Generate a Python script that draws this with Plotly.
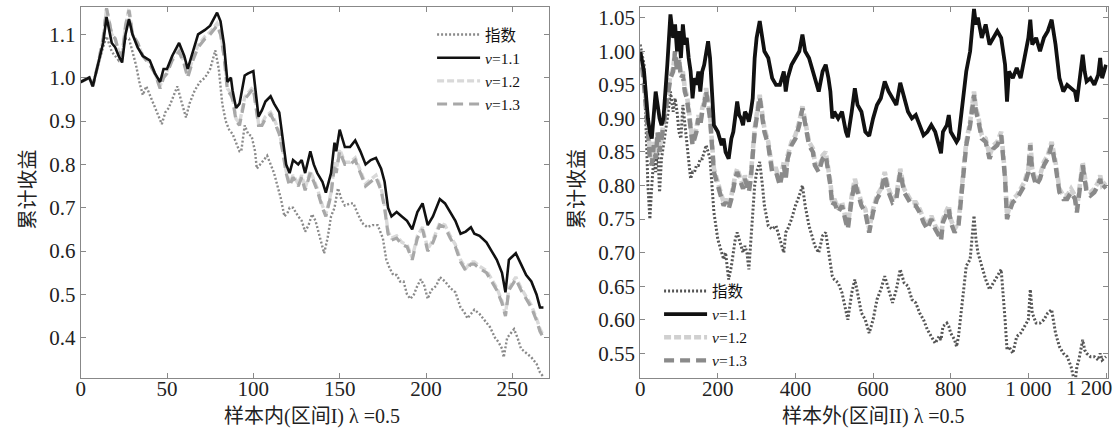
import plotly.graph_objects as go

# ---------------- data: left panel (in-sample) ----------------
LEFT_X = [0, 5, 7, 10, 13, 15, 18, 20, 22, 24,
          26, 28, 30, 33, 36, 40, 43, 46, 48, 50,
          53, 57, 60, 62, 65, 68, 72, 75, 79, 81,
          83, 85, 87, 88, 90, 92, 95, 97, 100, 103,
          105, 107, 110, 112, 115, 117, 119, 121, 123, 126,
          128, 130, 133, 135, 137, 140, 142, 145, 147, 148,
          150, 153, 156, 159, 162, 165, 168, 171, 174, 176,
          178, 180, 183, 186, 189, 192, 195, 198, 201, 204,
          208, 211, 214, 217, 220, 223, 226, 228, 231, 235,
          238, 241, 244, 246, 248, 252, 255, 258, 261, 264,
          266, 268]
LEFT_V11 = [0.99, 1.00, 0.98, 1.03, 1.08, 1.14, 1.08, 1.07, 1.05, 1.035,
            1.10, 1.135, 1.10, 1.07, 1.05, 1.04, 1.01, 0.99, 1.02, 1.02,
            1.05, 1.08, 1.05, 1.02, 1.06, 1.10, 1.11, 1.12, 1.15, 1.13,
            1.077, 0.99, 1.00, 0.97, 0.93, 0.94, 1.005, 1.01, 1.015, 0.91,
            0.925, 0.945, 0.957, 0.94, 0.92, 0.86, 0.80, 0.78, 0.81, 0.80,
            0.81, 0.78, 0.83, 0.80, 0.78, 0.76, 0.735, 0.78, 0.85, 0.83,
            0.88, 0.84, 0.84, 0.855, 0.83, 0.80, 0.81, 0.815, 0.79, 0.76,
            0.70, 0.68, 0.69, 0.68, 0.67, 0.65, 0.69, 0.71, 0.66, 0.68,
            0.72, 0.71, 0.69, 0.67, 0.64, 0.645, 0.655, 0.64, 0.635, 0.62,
            0.60, 0.58, 0.55, 0.505, 0.58, 0.595, 0.57, 0.545, 0.53, 0.50,
            0.47, 0.47]
LEFT_V12 = [0.99, 1.00, 0.98, 1.03, 1.09, 1.16, 1.10, 1.09, 1.06, 1.05,
            1.12, 1.16, 1.10, 1.08, 1.05, 1.035, 1.01, 0.98, 1.005, 1.015,
            1.045, 1.065, 1.035, 1.005, 1.045, 1.075, 1.095, 1.105, 1.125, 1.105,
            1.055, 0.975, 0.965, 0.955, 0.905, 0.895, 0.955, 0.965, 0.98, 0.895,
            0.895, 0.91, 0.92, 0.905, 0.875, 0.835, 0.785, 0.755, 0.775, 0.755,
            0.775, 0.745, 0.785, 0.765, 0.745, 0.705, 0.685, 0.735, 0.805, 0.785,
            0.835, 0.805, 0.805, 0.815, 0.785, 0.755, 0.765, 0.775, 0.745, 0.705,
            0.645, 0.63, 0.635, 0.62, 0.615, 0.585, 0.635, 0.655, 0.605, 0.625,
            0.665, 0.66, 0.635, 0.615, 0.58, 0.56, 0.575, 0.575, 0.565, 0.555,
            0.535, 0.515, 0.485, 0.455, 0.515, 0.54, 0.515, 0.495, 0.475, 0.445,
            0.42, 0.405]
LEFT_V13 = [0.99, 1.00, 0.98, 1.03, 1.09, 1.16, 1.10, 1.09, 1.06, 1.05,
            1.12, 1.155, 1.10, 1.08, 1.05, 1.03, 1.01, 0.975, 1.00, 1.01,
            1.04, 1.06, 1.03, 1.00, 1.04, 1.07, 1.09, 1.10, 1.12, 1.10,
            1.05, 0.97, 0.96, 0.95, 0.90, 0.89, 0.95, 0.96, 0.975, 0.89,
            0.89, 0.905, 0.915, 0.90, 0.87, 0.83, 0.78, 0.75, 0.77, 0.75,
            0.77, 0.74, 0.78, 0.76, 0.74, 0.70, 0.68, 0.73, 0.80, 0.78,
            0.83, 0.80, 0.80, 0.81, 0.78, 0.75, 0.76, 0.77, 0.74, 0.70,
            0.64, 0.625, 0.63, 0.615, 0.61, 0.58, 0.63, 0.65, 0.60, 0.62,
            0.66, 0.655, 0.63, 0.61, 0.575, 0.555, 0.57, 0.57, 0.56, 0.55,
            0.53, 0.51, 0.48, 0.45, 0.51, 0.535, 0.51, 0.49, 0.47, 0.44,
            0.415, 0.40]
LEFT_X_IDX = [0, 5, 7, 10, 13, 15, 18, 20, 22, 24,
              26, 28, 30, 32, 34, 36, 38, 40, 42, 44,
              46, 47, 49, 51, 53, 56, 58, 60, 61, 63,
              66, 69, 72, 75, 78, 80, 82, 84, 86, 88,
              90, 92, 93, 95, 97, 99, 101, 102, 104, 106,
              108, 110, 112, 114, 116, 118, 120, 121, 123, 126,
              128, 130, 132, 134, 136, 138, 140, 141, 143, 145,
              147, 149, 151, 153, 156, 158, 160, 163, 166, 169,
              172, 175, 177, 179, 181, 183, 185, 187, 189, 191,
              193, 195, 197, 199, 201, 203, 206, 208, 211, 214,
              217, 220, 222, 224, 226, 228, 231, 234, 237, 240,
              242, 244, 245, 247, 249, 251, 253, 255, 258, 261,
              264, 266, 268]
LEFT_IDX = [0.99, 1.00, 0.985, 1.03, 1.07, 1.095, 1.06, 1.05, 1.04, 1.06,
            1.09, 1.09, 1.06, 1.03, 0.99, 0.96, 0.98, 0.96, 0.94, 0.92,
            0.90, 0.893, 0.92, 0.93, 0.95, 0.98, 0.95, 0.92, 0.908, 0.94,
            0.97, 0.99, 1.00, 1.02, 1.063, 1.02, 0.94, 0.90, 0.88, 0.87,
            0.85, 0.83, 0.83, 0.89, 0.87, 0.865, 0.83, 0.79, 0.80, 0.81,
            0.82, 0.80, 0.78, 0.75, 0.72, 0.68, 0.69, 0.70, 0.70, 0.68,
            0.67, 0.645, 0.66, 0.685, 0.67, 0.64, 0.61, 0.595, 0.63, 0.68,
            0.70, 0.745, 0.72, 0.705, 0.71, 0.71, 0.69, 0.665, 0.655, 0.66,
            0.66, 0.63, 0.58, 0.56, 0.545, 0.545, 0.53, 0.53, 0.50, 0.49,
            0.50, 0.52, 0.535, 0.52, 0.49, 0.51, 0.52, 0.54, 0.53, 0.515,
            0.505, 0.47, 0.46, 0.445, 0.455, 0.465, 0.455, 0.44, 0.425, 0.40,
            0.39, 0.375, 0.355, 0.40, 0.41, 0.42, 0.40, 0.375, 0.365, 0.355,
            0.34, 0.32, 0.31]

# ---------------- data: right panel (out-of-sample) ----------------
RIGHT_X = [0, 10, 20, 25, 30, 35, 40, 45, 50, 55,
           60, 70, 78, 85, 90, 95, 100, 105, 110, 115,
           120, 125, 130, 135, 140, 145, 150, 155, 160, 165,
           170, 175, 180, 185, 190, 200, 210, 215, 220, 228,
           235, 240, 245, 250, 255, 260, 265, 270, 275, 280,
           285, 290, 295, 300, 308, 315, 320, 330, 340, 350,
           360, 370, 375, 380, 390, 400, 410, 418, 425, 435,
           445, 450, 460, 470, 478, 485, 490, 495, 500, 510,
           520, 530, 535, 545, 553, 560, 570, 580, 590, 600,
           610, 620, 630, 640, 650, 660, 670, 680, 690, 700,
           710, 720, 730, 740, 750, 760, 770, 775, 780, 790,
           795, 800, 810, 815, 820, 830, 840, 850, 860, 865,
           870, 880, 890, 900, 910, 920, 930, 940, 945, 950,
           960, 970, 980, 990, 1000, 1005, 1010, 1020, 1030, 1040,
           1050, 1060, 1070, 1080, 1090, 1100, 1110, 1120, 1125, 1130,
           1140, 1145, 1150, 1160, 1170, 1180, 1185, 1190, 1200]
RIGHT_V11 = [1.00, 0.97, 0.90, 0.88, 0.87, 0.90, 0.94, 0.92, 0.90, 0.89,
             0.90, 0.98, 1.055, 1.02, 1.04, 1.00, 1.03, 0.99, 1.04, 1.01,
             1.02, 0.99, 0.97, 0.93, 0.96, 0.95, 0.97, 0.94, 0.97, 0.98,
             1.00, 1.015, 0.99, 0.93, 0.89, 0.88, 0.86, 0.87, 0.85, 0.84,
             0.87, 0.88, 0.90, 0.925, 0.905, 0.90, 0.89, 0.91, 0.905, 0.895,
             0.91, 0.93, 0.99, 1.02, 1.045, 1.02, 1.00, 0.99, 0.96, 0.95,
             0.95, 0.97, 0.94, 0.96, 0.98, 0.99, 1.00, 1.025, 1.00, 0.99,
             0.97, 0.96, 0.94, 0.97, 0.98, 0.96, 0.94, 0.90, 0.91, 0.90,
             0.91, 0.88, 0.872, 0.91, 0.945, 0.92, 0.91, 0.88, 0.874, 0.90,
             0.92, 0.93, 0.955, 0.94, 0.93, 0.92, 0.953, 0.93, 0.91, 0.90,
             0.905, 0.89, 0.875, 0.88, 0.89, 0.88, 0.86, 0.848, 0.88, 0.89,
             0.905, 0.88, 0.87, 0.865, 0.87, 0.92, 0.97, 1.00, 1.063, 1.04,
             1.05, 1.02, 1.04, 1.01, 1.02, 1.03, 1.02, 0.98, 0.925, 0.97,
             0.96, 0.975, 0.96, 0.99, 1.02, 1.047, 1.01, 1.02, 1.00, 1.02,
             1.03, 1.047, 1.01, 0.96, 0.94, 0.95, 0.945, 0.94, 0.925, 0.95,
             0.995, 0.97, 0.955, 0.96, 0.95, 0.965, 0.99, 0.96, 0.98]
RIGHT_V12 = [1.00, 0.96, 0.89, 0.85, 0.835, 0.865, 0.845, 0.88, 0.855, 0.87,
             0.895, 0.935, 0.965, 0.975, 1.00, 0.975, 0.99, 0.965, 0.97, 0.945,
             0.935, 0.915, 0.885, 0.865, 0.875, 0.885, 0.905, 0.895, 0.915, 0.925,
             0.945, 0.925, 0.905, 0.865, 0.825, 0.805, 0.785, 0.775, 0.78, 0.77,
             0.785, 0.805, 0.815, 0.825, 0.815, 0.805, 0.80, 0.815, 0.805, 0.795,
             0.815, 0.855, 0.885, 0.905, 0.935, 0.905, 0.885, 0.865, 0.825, 0.825,
             0.805, 0.835, 0.815, 0.845, 0.865, 0.875, 0.895, 0.918, 0.895, 0.865,
             0.855, 0.835, 0.825, 0.845, 0.85, 0.825, 0.805, 0.775, 0.78, 0.765,
             0.775, 0.75, 0.74, 0.785, 0.81, 0.795, 0.775, 0.765, 0.735, 0.765,
             0.785, 0.795, 0.82, 0.795, 0.78, 0.785, 0.825, 0.795, 0.785, 0.775,
             0.775, 0.765, 0.75, 0.74, 0.755, 0.74, 0.73, 0.722, 0.75, 0.765,
             0.77, 0.75, 0.735, 0.74, 0.745, 0.805, 0.865, 0.895, 0.94, 0.915,
             0.905, 0.875, 0.87, 0.845, 0.86, 0.865, 0.88, 0.815, 0.755, 0.765,
             0.78, 0.785, 0.795, 0.805, 0.825, 0.865, 0.825, 0.805, 0.815, 0.835,
             0.845, 0.865, 0.835, 0.795, 0.785, 0.785, 0.795, 0.785, 0.765, 0.785,
             0.835, 0.815, 0.795, 0.79, 0.795, 0.805, 0.815, 0.80, 0.805]
RIGHT_V13 = [1.00, 0.95, 0.88, 0.84, 0.83, 0.86, 0.84, 0.88, 0.85, 0.87,
             0.89, 0.93, 0.96, 0.97, 1.00, 0.97, 0.99, 0.96, 0.965, 0.94,
             0.93, 0.91, 0.88, 0.86, 0.87, 0.88, 0.90, 0.89, 0.91, 0.92,
             0.94, 0.92, 0.90, 0.86, 0.82, 0.80, 0.78, 0.77, 0.775, 0.765,
             0.78, 0.80, 0.81, 0.82, 0.81, 0.80, 0.795, 0.81, 0.80, 0.79,
             0.81, 0.85, 0.88, 0.90, 0.932, 0.90, 0.88, 0.86, 0.82, 0.82,
             0.80, 0.83, 0.81, 0.84, 0.86, 0.87, 0.89, 0.915, 0.89, 0.86,
             0.85, 0.83, 0.82, 0.84, 0.845, 0.82, 0.80, 0.77, 0.775, 0.76,
             0.77, 0.745, 0.735, 0.78, 0.805, 0.79, 0.77, 0.76, 0.73, 0.76,
             0.78, 0.79, 0.815, 0.79, 0.775, 0.78, 0.82, 0.79, 0.78, 0.77,
             0.77, 0.76, 0.745, 0.735, 0.75, 0.735, 0.725, 0.718, 0.745, 0.76,
             0.765, 0.745, 0.73, 0.735, 0.74, 0.80, 0.86, 0.89, 0.935, 0.91,
             0.90, 0.87, 0.865, 0.84, 0.855, 0.86, 0.875, 0.81, 0.75, 0.76,
             0.775, 0.78, 0.79, 0.80, 0.82, 0.86, 0.82, 0.80, 0.81, 0.83,
             0.84, 0.86, 0.83, 0.79, 0.78, 0.78, 0.79, 0.78, 0.76, 0.78,
             0.83, 0.81, 0.79, 0.785, 0.79, 0.80, 0.81, 0.795, 0.80]
RIGHT_IDX = [1.01, 0.98, 0.80, 0.75, 0.80, 0.84, 0.82, 0.86, 0.79, 0.84,
             0.86, 0.90, 0.94, 0.91, 0.93, 0.91, 0.88, 0.87, 0.92, 0.89,
             0.87, 0.84, 0.81, 0.82, 0.82, 0.83, 0.83, 0.84, 0.84, 0.85,
             0.86, 0.85, 0.84, 0.80, 0.76, 0.72, 0.70, 0.69, 0.70, 0.66,
             0.68, 0.70, 0.72, 0.73, 0.72, 0.71, 0.70, 0.71, 0.70, 0.675,
             0.72, 0.77, 0.80, 0.82, 0.835, 0.80, 0.77, 0.74, 0.735, 0.74,
             0.72, 0.70, 0.73, 0.735, 0.75, 0.77, 0.785, 0.80, 0.77, 0.74,
             0.72, 0.71, 0.70, 0.725, 0.73, 0.70, 0.68, 0.665, 0.66, 0.655,
             0.64, 0.61, 0.60, 0.64, 0.66, 0.64, 0.61, 0.60, 0.58, 0.60,
             0.63, 0.645, 0.665, 0.645, 0.625, 0.645, 0.675, 0.655, 0.65, 0.63,
             0.625, 0.61, 0.60, 0.585, 0.575, 0.565, 0.575, 0.57, 0.59, 0.595,
             0.59, 0.58, 0.57, 0.56, 0.575, 0.63, 0.68, 0.69, 0.755, 0.72,
             0.70, 0.68, 0.66, 0.645, 0.655, 0.665, 0.675, 0.60, 0.555, 0.56,
             0.55, 0.575, 0.58, 0.59, 0.60, 0.645, 0.61, 0.595, 0.595, 0.60,
             0.61, 0.615, 0.58, 0.56, 0.55, 0.545, 0.53, 0.505, 0.53, 0.54,
             0.57, 0.555, 0.55, 0.545, 0.545, 0.54, 0.55, 0.54, 0.545]

NAMES = ["指数", "<i>v</i>=1.1", "<i>v</i>=1.2", "<i>v</i>=1.3"]
LEFT_Y_TICKS = [0.4, 0.5, 0.6, 0.7, 0.8, 0.9, 1.0, 1.1]
LEFT_X_TICKS = [0, 50, 100, 150, 200, 250]
RIGHT_Y_TICKS = [0.55, 0.60, 0.65, 0.70, 0.75, 0.80, 0.85, 0.90, 0.95, 1.00, 1.05]
RIGHT_X_TICKS = [0, 200, 400, 600, 800, 1000, 1200]
RIGHT_X_TEXT = ["0", "200", "400", "600", "800", "1\u2009000", "1\u2009200"]

W, H = 1120, 433
SERIF = "Liberation Serif, Times New Roman, Noto Sans CJK SC, serif"

fig = go.Figure()

def add_panel(xv, xi, idx, v11, v12, v13, xa, ya, legend, c_idx, c12, c13, w_main, w_idx):
    fig.add_trace(go.Scatter(x=xi, y=idx, name=NAMES[0], mode="lines", xaxis=xa, yaxis=ya,
                             legend=legend, legendrank=1,
                             line=dict(color=c_idx, width=w_idx, dash="2px,2px")))
    fig.add_trace(go.Scatter(x=xv, y=v12, name=NAMES[2], mode="lines", xaxis=xa, yaxis=ya,
                             legend=legend, legendrank=3,
                             line=dict(color=c12, width=w_main + 0.8, dash="7px,3px")))
    fig.add_trace(go.Scatter(x=xv, y=v13, name=NAMES[3], mode="lines", xaxis=xa, yaxis=ya,
                             legend=legend, legendrank=4,
                             line=dict(color=c13, width=w_main + 0.6, dash="10px,6px")))
    fig.add_trace(go.Scatter(x=xv, y=v11, name=NAMES[1], mode="lines", xaxis=xa, yaxis=ya,
                             legend=legend, legendrank=2,
                             line=dict(color="#111111", width=w_main)))

add_panel(LEFT_X, LEFT_X_IDX, LEFT_IDX, LEFT_V11, LEFT_V12, LEFT_V13,
          "x", "y", "legend", "#8a8a8a", "#d9d9d9", "#a8a8a8", 2.6, 2.4)
add_panel(RIGHT_X, RIGHT_X, RIGHT_IDX, RIGHT_V11, RIGHT_V12, RIGHT_V13,
          "x2", "y2", "legend2", "#555555", "#d0d0d0", "#8a8a8a", 3.8, 3.0)

tick_font = dict(family=SERIF, size=21, color="#222222")
axis_common = dict(showgrid=False, zeroline=False, showline=True, linecolor="#888888",
                   linewidth=1, mirror="ticks", ticks="inside", ticklen=5,
                   tickcolor="#888888", tickwidth=1, tickfont=tick_font)

ydom = [(H - 378) / H, (H - 6) / H]
legend_common = dict(xanchor="left", yanchor="top", bgcolor="rgba(0,0,0,0)",
                     tracegroupgap=0, itemwidth=43,
                     font=dict(family=SERIF, size=15.5, color="#111111"))
# the last right-hand label would run past the page edge: its tick text is drawn
# as an annotation nudged left of the tick, as in the reference
right_ticktext_axis = RIGHT_X_TEXT[:-1] + [""]
fig.update_layout(
    width=W, height=H,
    margin=dict(l=0, r=0, t=0, b=0),
    paper_bgcolor="white", plot_bgcolor="white",
    showlegend=True,
    xaxis=dict(domain=[76 / W, 546.4 / W], range=[0, 271.2], anchor="y",
               tickvals=LEFT_X_TICKS, ticklabelstandoff=-8, **axis_common),
    yaxis=dict(domain=ydom, range=[0.307, 1.163], anchor="x",
               tickvals=LEFT_Y_TICKS, tickformat=".1f", **axis_common),
    xaxis2=dict(domain=[638 / W, 1107.5 / W], range=[0, 1204], anchor="y2",
                tickvals=RIGHT_X_TICKS, ticktext=right_ticktext_axis, ticklabelstandoff=-8,
                **axis_common),
    yaxis2=dict(domain=ydom, range=[0.513, 1.066], anchor="x2",
                tickvals=RIGHT_Y_TICKS, tickformat=".2f", **axis_common),
    legend=dict(x=429 / W, y=1 - 17 / H, **legend_common),
    legend2=dict(x=657 / W, y=1 - 274 / H, **legend_common),
)

fig.add_annotation(text=RIGHT_X_TEXT[-1], x=RIGHT_X_TICKS[-1], xref="x2", y=1 - 388 / H, yref="paper",
                   showarrow=False, xanchor="center", yanchor="middle", xshift=-17, font=tick_font)

title_font = dict(family=SERIF, size=20, color="#222222")
fig.add_annotation(text="样本内(区间I) λ =0.5", x=308 / W, y=1 - 416 / H, xref="paper", yref="paper",
                   showarrow=False, xanchor="center", yanchor="middle", font=title_font)
fig.add_annotation(text="样本外(区间II) λ =0.5", x=872 / W, y=1 - 416 / H, xref="paper", yref="paper",
                   showarrow=False, xanchor="center", yanchor="middle", font=title_font)
fig.add_annotation(text="累计收益", x=23 / W, y=1 - 189 / H, xref="paper", yref="paper",
                   showarrow=False, xanchor="center", yanchor="middle", textangle=-90, font=title_font)
fig.add_annotation(text="累计收益", x=574 / W, y=1 - 188 / H, xref="paper", yref="paper",
                   showarrow=False, xanchor="center", yanchor="middle", textangle=-90, font=title_font)

fig.write_html("out.html", config={"displayModeBar": False},
               post_script="document.body.style.margin='0';document.body.style.overflow='hidden';")
